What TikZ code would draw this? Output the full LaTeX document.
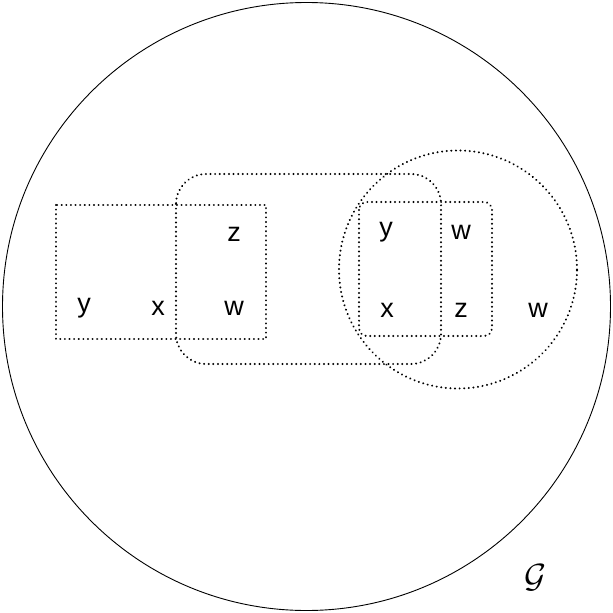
\documentclass[tikz,border=0pt]{standalone}
\usepackage{fontspec}
\usepackage{graphicx}
\setmainfont{Liberation Sans}
\begin{document}
\begin{tikzpicture}[x=1pt,y=-1pt,
  dotline/.style={line width=2.2pt,dash pattern=on 0.01pt off 4.6pt,line cap=round},
  lbl/.style={inner sep=0pt,font=\fontsize{27}{31}\selectfont}]
\useasboundingbox (0,0) rectangle (613,613);
\node[circle,draw,line width=0.9pt,minimum size=608pt,inner sep=0pt] (G) at (306.5,306.5) {};
\draw[dotline] (56,205) rectangle (266,339);
\draw[dotline,rounded corners=30pt] (176,174) rectangle (441,364);
\draw[dotline,rounded corners=8pt] (359,202) rectangle (492,336);
\node[circle,draw,dotline,minimum size=238pt,inner sep=0pt] (C) at (458,269.5) {};
\node[lbl] (y1) at (84,308) {y};
\node[lbl] (x1) at (158,308) {x};
\node[lbl] (z1) at (234,234) {z};
\node[lbl] (w1) at (234,308) {w};
\node[lbl] (y2) at (386,232) {y};
\node[lbl] (w2) at (461,232) {w};
\node[lbl] (x2) at (387,310) {x};
\node[lbl] (z2) at (461,310) {z};
\node[lbl] (w3) at (538,310) {w};
\node[lbl,font=\fontsize{24.88}{30}\selectfont] (g) at (535,578) {\scalebox{1.35}{$\mathcal{G}$}};
\end{tikzpicture}
\end{document}
